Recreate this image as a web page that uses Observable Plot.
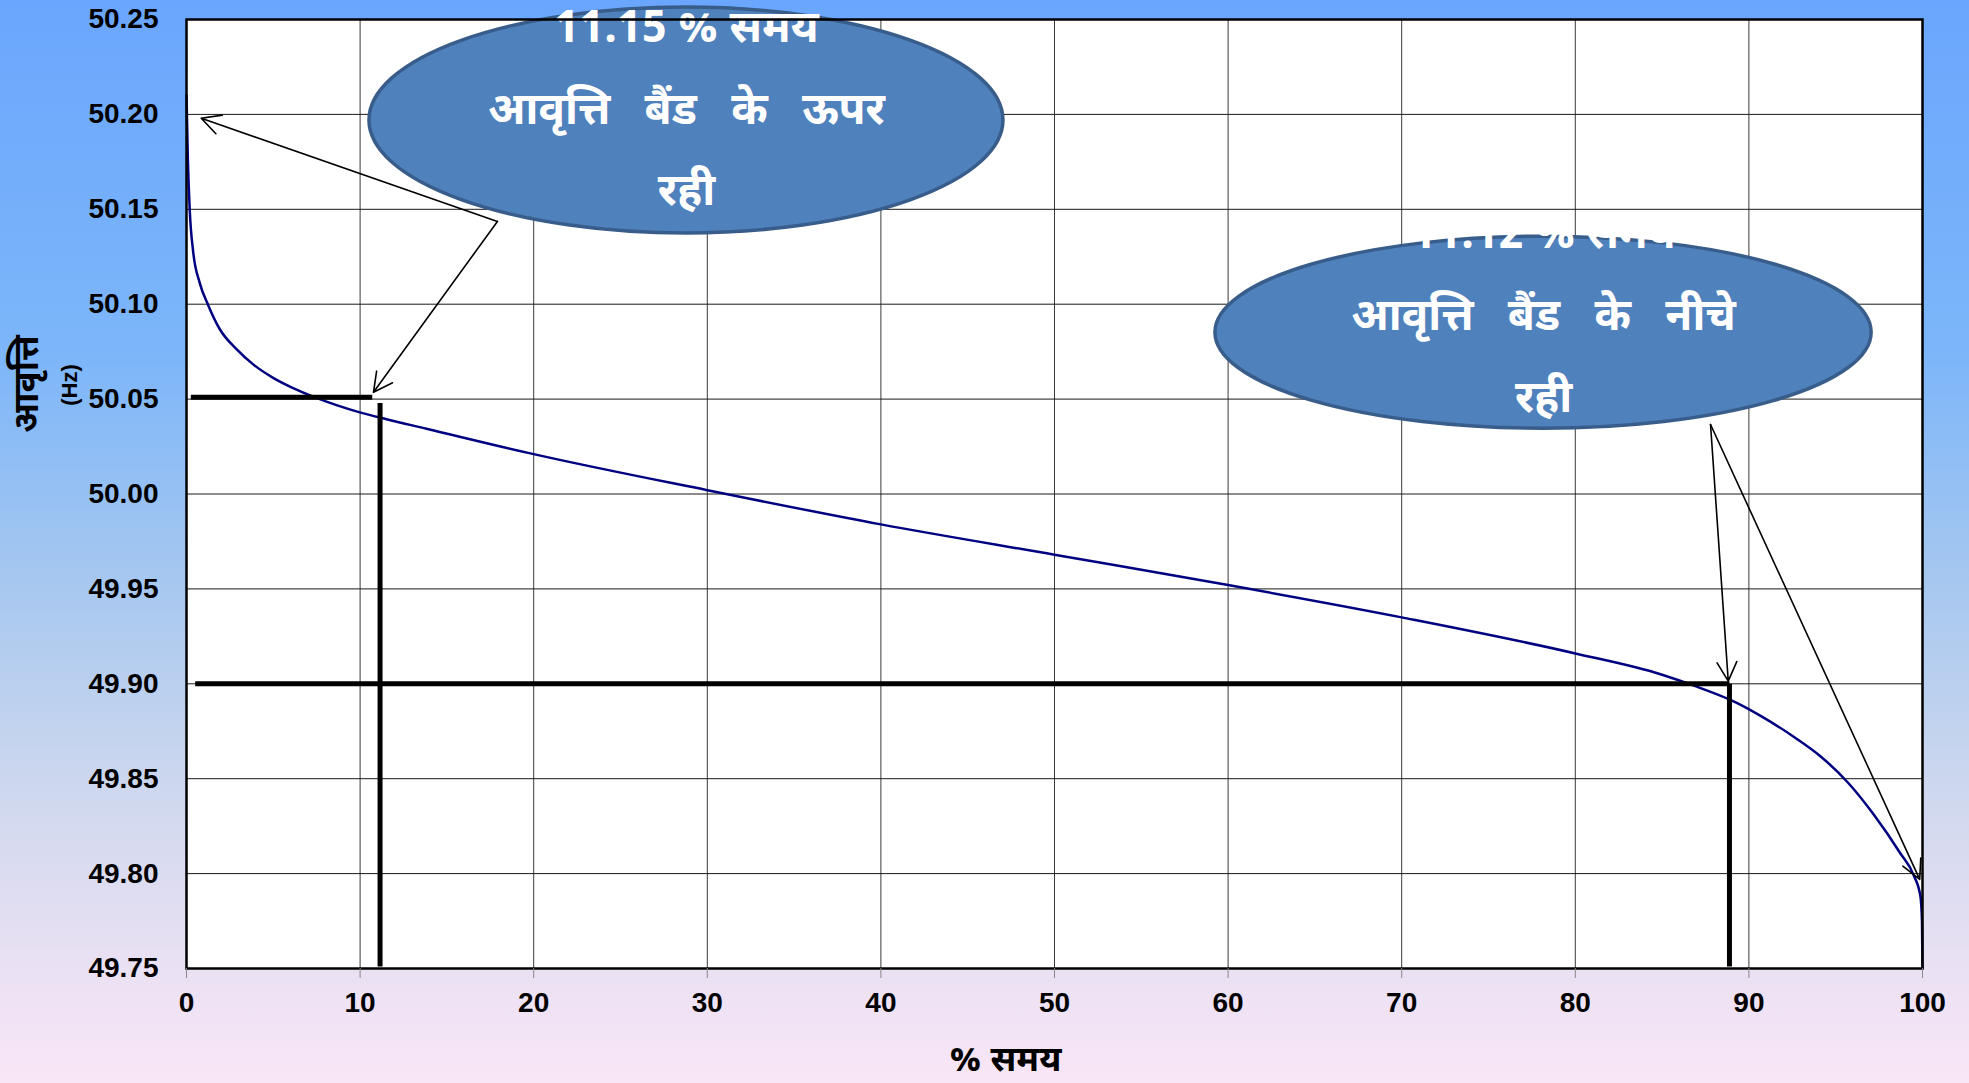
<!DOCTYPE html>
<html lang="hi">
<head>
<meta charset="utf-8">
<title>आवृत्ति अवधि वक्र</title>
<script src="https://cdn.jsdelivr.net/npm/d3@7"></script>
<script src="https://cdn.jsdelivr.net/npm/@observablehq/plot@0.6"></script>
<style>
  html, body {
    margin: 0;
    padding: 0;
    width: 1969px;
    height: 1083px;
    overflow: hidden;
    background: linear-gradient(to bottom, #6aa6fd 0%, #7db6f9 33%, #a3c6f0 52%, #ccd7ee 72%, #e8e0f3 88%, #f9e6f6 100%);
  }
  #chart svg { display: block; }
  #chart svg text { white-space: pre; }
</style>
</head>
<body>
<div id="chart"></div>
<script>
// Frequency duration curve: % of time (x) for which frequency is at or above a value (y)
const timePct = [0, 0.08, 0.19, 0.38, 0.77, 1.25, 1.92, 2.88, 3.84, 4.99, 6.14, 7.30, 8.64, 9.98, 11.52, 13.82, 20, 30, 40, 50, 60, 70, 80, 85, 87, 89.3, 90.7, 92.6, 94.1, 95.7, 97.2, 98.7, 99.5, 99.88, 99.97, 100];
const freqHz  = [50.21, 50.176, 50.149, 50.128, 50.111, 50.0995, 50.0868, 50.0763, 50.0683, 50.0612, 50.0558, 50.0513, 50.0468, 50.0430, 50.0394, 50.0344, 50.021, 50.002, 49.984, 49.968, 49.952, 49.935, 49.916, 49.9048, 49.8985, 49.890, 49.883, 49.872, 49.862, 49.848, 49.831, 49.811, 49.799, 49.788, 49.775, 49.75];

// Axis ticks
const xTicks = [0, 10, 20, 30, 40, 50, 60, 70, 80, 90, 100];
const yTicks = [49.75, 49.80, 49.85, 49.90, 49.95, 50.00, 50.05, 50.10, 50.15, 50.20, 50.25];

// Frequency band limits and the share of time spent outside them
const bandUpperHz = 50.05;
const bandLowerHz = 49.90;
const aboveBandPct = 11.15;
const belowBandPct = 11.12;

// Band marker segments (thick black lines)
const markerX1 = [0.25, aboveBandPct, 0.5, 100 - belowBandPct];
const markerY1 = [bandUpperHz + 0.001, bandUpperHz - 0.002, bandLowerHz, bandLowerHz];
const markerX2 = [10.7, aboveBandPct, 100 - belowBandPct, 100 - belowBandPct];
const markerY2 = [bandUpperHz + 0.001, 49.751, bandLowerHz, 49.751];

// Callout pointers
const arrowX1 = [17.91, 17.91, 87.79, 87.79];
const arrowY1 = [50.1436, 50.1436, 50.0366, 50.0366];
const arrowX2 = [0.85, 10.77, 88.81, 99.84];
const arrowY2 = [50.198, 50.0536, 49.9014, 49.797];

// Callout bubbles (centre and radii in data units) and their text
const calloutCx = [28.8, 78.17];
const calloutCy = [50.1968, 50.085];
const calloutRx = [18.26, 18.9];
const calloutRy = [0.0595, 0.0506];
const calloutText = [
  `${aboveBandPct.toFixed(2)} % समय\nआवृत्ति   बैंड   के   ऊपर\nरही`,
  `${belowBandPct.toFixed(2)} % समय\nआवृत्ति   बैंड   के   नीचे\nरही`
];

const curve = timePct.map((t, i) => ({t, f: freqHz[i]}));
const idx4 = d3.range(4);

const latin = "'Liberation Sans', Arial, sans-serif";
const deva = "'Noto Sans Devanagari', 'Lohit Devanagari', 'Noto Sans', 'Liberation Sans', sans-serif";

// Draws the callout ellipses through the plot's scales
function bubbles(index, scales) {
  const g = d3.create("svg:g");
  for (const i of [0, 1]) {
    const cx = scales.x(calloutCx[i]);
    const cy = scales.y(calloutCy[i]);
    const rx = scales.x(calloutCx[i] + calloutRx[i]) - cx;
    const ry = cy - scales.y(calloutCy[i] + calloutRy[i]);
    g.append("ellipse")
      .attr("cx", cx).attr("cy", cy)
      .attr("rx", rx).attr("ry", ry)
      .attr("fill", "#4f81bd")
      .attr("stroke", "#385d8a")
      .attr("stroke-width", 3.5);
  }
  return g.node();
}

// White three-line text of one callout
const calloutLabel = (i, dy) => Plot.text([i], {
  x: j => calloutCx[j], y: j => calloutCy[j],
  text: j => calloutText[j],
  fill: "white", fontSize: 44, fontWeight: "bold", fontFamily: deva,
  lineHeight: 1.86, lineAnchor: "middle", textAnchor: "middle", dy
});

const chart = Plot.plot({
  width: 1969,
  height: 1083,
  marginLeft: 186,
  marginRight: 47,
  marginTop: 19,
  marginBottom: 115,
  style: {background: "transparent", fontFamily: latin, overflow: "visible"},
  x: {domain: [0, 100]},
  y: {domain: [49.75, 50.25]},
  marks: [
    Plot.frame({fill: "white", stroke: null}),
    Plot.gridX(xTicks, {stroke: "#3a3a3a", strokeOpacity: 1, strokeWidth: 1}),
    Plot.gridY(yTicks, {stroke: "#1a1a1a", strokeOpacity: 1, strokeWidth: 1}),
    Plot.line(curve, {x: "t", y: "f", stroke: "#000080", strokeWidth: 2.5, curve: "monotone-x"}),
    Plot.link(idx4, {
      x1: i => markerX1[i], y1: i => markerY1[i],
      x2: i => markerX2[i], y2: i => markerY2[i],
      stroke: "black", strokeWidth: 5, strokeLinecap: "butt"
    }),
    Plot.arrow(idx4, {
      x1: i => arrowX1[i], y1: i => arrowY1[i],
      x2: i => arrowX2[i], y2: i => arrowY2[i],
      stroke: "black", strokeWidth: 1.6, headLength: 20, headAngle: 55, bend: 0
    }),
    bubbles,
    calloutLabel(0, -23),
    calloutLabel(1, -29),
    Plot.frame({stroke: "black", strokeWidth: 2.5}),
    Plot.axisX(xTicks, {
      tickSize: 10, tickPadding: 14, stroke: "#888", fill: "black",
      fontSize: 28, fontWeight: "bold", label: null
    }),
    Plot.axisY(yTicks, {
      tickSize: 0, tickPadding: 28, fill: "black",
      fontSize: 28, fontWeight: "bold", tickFormat: d => d.toFixed(2), label: null
    }),
    Plot.text(["आवृत्ति"], {
      frameAnchor: "left", dx: -160, dy: -110, rotate: -90,
      textAnchor: "middle", lineAnchor: "middle",
      fontSize: 35, fontWeight: "bold", fontFamily: deva, fill: "black"
    }),
    Plot.text(["(Hz)"], {
      frameAnchor: "left", dx: -117, dy: -109, rotate: -90,
      textAnchor: "middle", lineAnchor: "middle",
      fontSize: 22, fontWeight: "bold", fill: "black"
    }),
    Plot.text(["% समय"], {
      frameAnchor: "bottom", dx: -49, dy: 91,
      textAnchor: "middle", lineAnchor: "middle",
      fontSize: 35, fontWeight: "bold", fontFamily: deva, fill: "black"
    })
  ]
});

document.getElementById("chart").appendChild(chart);
</script>
</body>
</html>
